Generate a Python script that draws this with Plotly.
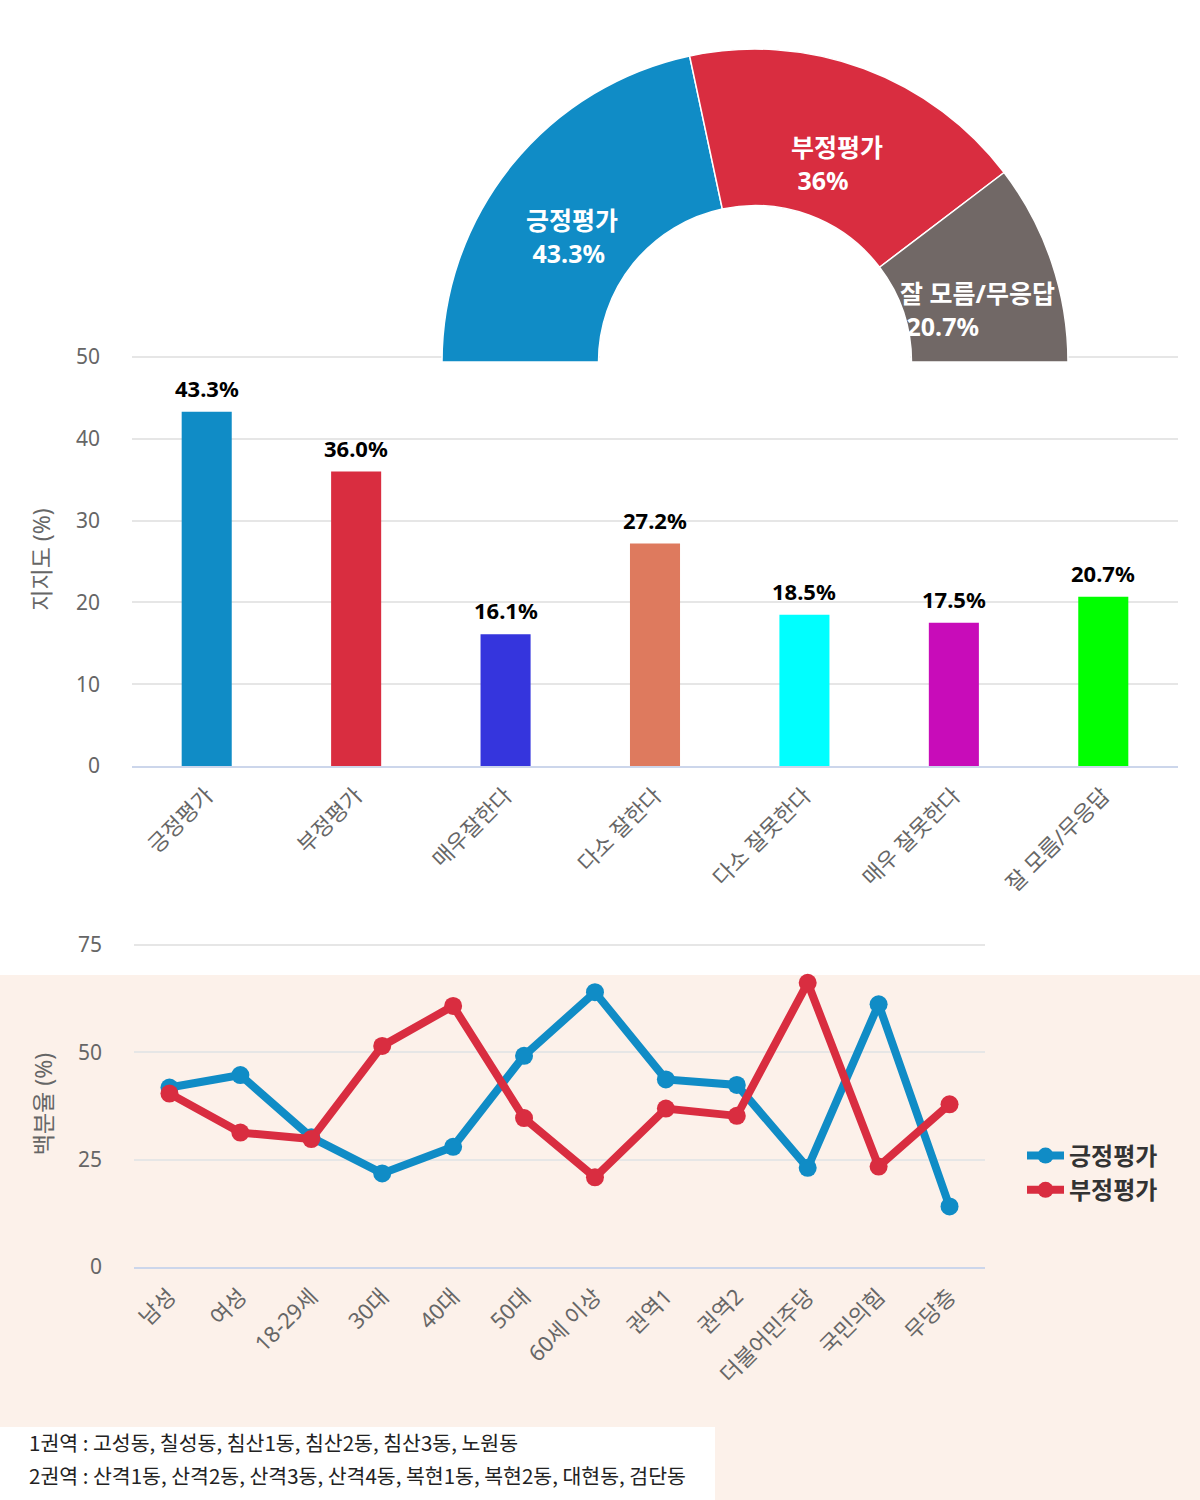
import math
import plotly.graph_objects as go

W, H = 1200, 1500

# 상단 반원 도넛
donut_labels = ["긍정평가", "부정평가", "잘 모름/무응답"]
donut_values = [43.3, 36, 20.7]
donut_colors = ["#108cc6", "#d92d40", "#716866"]

# 막대 그래프
bar_labels = ["긍정평가", "부정평가", "매우잘한다", "다소 잘한다",
              "다소 잘못한다", "매우 잘못한다", "잘 모름/무응답"]
bar_values = [43.3, 36.0, 16.1, 27.2, 18.5, 17.5, 20.7]
bar_colors = ["#108cc6", "#d92d40", "#3535dd", "#de7a5e",
              "#00ffff", "#c80cb9", "#00ff00"]
bar_ticks = [0, 10, 20, 30, 40, 50]

# 꺾은선 그래프 (계층별)
groups = ["남성", "여성", "18-29세", "30대", "40대", "50대", "60세 이상",
          "권역1", "권역2", "더불어민주당", "국민의힘", "무당층"]
positive = [41.8, 44.7, 30.2, 21.8, 28.0, 49.2, 64.0, 43.7, 42.4, 23.1, 61.2, 14.1]
negative = [40.4, 31.3, 29.8, 51.5, 60.8, 34.7, 20.9, 36.9, 35.2, 66.2, 23.4, 37.9]
line_ticks = [0, 25, 50, 75]

notes = [
    "1권역 : 고성동, 칠성동, 침산1동, 침산2동, 침산3동, 노원동",
    "2권역 : 산격1동, 산격2동, 산격3동, 산격4동, 복현1동, 복현2동, 대현동, 검단동",
]

FONT = "Noto Sans, Noto Sans CJK KR"
GREY = "#666666"

# 도넛 위치 (픽셀)
CX, CY, R, HOLE = 755, 362, 313, 0.5


def px(x):
    return x / W


def py(y):
    return 1 - y / H


def pie_domain(r):
    return dict(x=[px(CX - r), px(CX + r)], y=[py(CY + r), py(CY - r)])


def y_layout(bottom, top, ticks, pad=4):
    # 맨 위 눈금선이 잘리지 않도록 영역을 조금 늘림
    top_val = ticks[-1] * (bottom - top + pad) / (bottom - top)
    return dict(domain=[py(bottom), py(top - pad)], range=[0, top_val], tickvals=ticks)


fig = go.Figure()

# 반원: 보이지 않는 아래쪽 절반을 더해서 만든다
fig.add_trace(
    go.Pie(
        labels=donut_labels + ["_"],
        values=donut_values + [sum(donut_values)],
        marker=dict(
            colors=donut_colors + ["rgba(0,0,0,0)"],
            line=dict(color=["white"] * 3 + ["rgba(0,0,0,0)"], width=[1.5, 1.5, 1.5, 0]),
        ),
        hole=HOLE,
        sort=False,
        direction="clockwise",
        rotation=-90,
        textinfo="none",
        hoverinfo="skip",
        showlegend=False,
        domain=pie_domain(R),
    )
)
# 도넛 구멍 윗부분은 흰색으로 (뒤의 눈금선 가림)
fig.add_trace(
    go.Pie(
        labels=["hole", "_"],
        values=[1, 1],
        marker=dict(colors=["white", "rgba(0,0,0,0)"], line=dict(width=0)),
        sort=False,
        direction="clockwise",
        rotation=-90,
        textinfo="none",
        hoverinfo="skip",
        showlegend=False,
        domain=pie_domain(R * HOLE - 1),
    )
)

fig.add_trace(
    go.Bar(
        x=bar_labels,
        y=bar_values,
        marker=dict(color=bar_colors, line=dict(width=0)),
        width=0.335,
        showlegend=False,
        hoverinfo="skip",
        xaxis="x",
        yaxis="y",
    )
)

for name, vals, color in [("긍정평가", positive, "#108cc6"), ("부정평가", negative, "#d92d40")]:
    fig.add_trace(
        go.Scatter(
            x=groups,
            y=vals,
            name=name,
            mode="lines+markers",
            line=dict(color=color, width=8),
            marker=dict(color=color, size=18),
            xaxis="x2",
            yaxis="y2",
        )
    )

# 막대 값 라벨
for lab, v in zip(bar_labels, bar_values):
    fig.add_annotation(
        x=lab, y=v, xref="x", yref="y",
        text=f"{v:.1f}%", showarrow=False,
        xanchor="center", yanchor="middle", yshift=24,
        font=dict(family=FONT, size=22, color="#000000", weight="bold"),
    )

# 도넛 라벨
total = sum(donut_values)
r_mid = R * (1 + HOLE) / 2
cum = 0
for lab, v in zip(donut_labels, donut_values):
    ang = math.radians(180 - (cum + v / 2) / total * 180)
    cum += v
    fig.add_annotation(
        x=px(CX + r_mid * math.cos(ang)),
        y=py(CY - r_mid * math.sin(ang)),
        xref="paper", yref="paper",
        xanchor="center", yanchor="middle",
        text=f"{lab}<br>\u00a0{v:g}%",
        align="left",
        showarrow=False,
        yshift=-22,
        font=dict(family=FONT, size=25, color="white", weight="bold"),
    )

# 배경
fig.add_shape(type="rect", xref="paper", yref="paper", x0=0, x1=1, y0=0, y1=py(975),
              fillcolor="#fcf1ea", line=dict(width=0), layer="below")
fig.add_shape(type="rect", xref="paper", yref="paper", x0=0, x1=px(715), y0=0, y1=py(1427),
              fillcolor="white", line=dict(width=0), layer="below")

for i, t in enumerate(notes):
    fig.add_annotation(
        x=px(27), y=py(1442 + 33 * i), xref="paper", yref="paper",
        xanchor="left", yanchor="middle", showarrow=False, text=t,
        font=dict(family="Noto Sans CJK KR", size=20.5, color="#222222"),
    )

grid = dict(gridcolor="#e6e6e6", gridwidth=2, zeroline=False, showline=False, automargin=False,
            tickfont=dict(family=FONT, size=21, color=GREY), ticklabelstandoff=31)
xax = dict(showgrid=False, showline=True, linecolor="#ccd6eb", linewidth=2, automargin=False,
           tickangle=-45, tickfont=dict(family=FONT, size=22, color=GREY), ticks="",
           ticklabelstandoff=6)

fig.update_layout(
    width=W,
    height=H,
    margin=dict(l=0, r=0, t=0, b=0, autoexpand=False),
    paper_bgcolor="white",
    plot_bgcolor="rgba(0,0,0,0)",
    font=dict(family=FONT, color=GREY),
    xaxis=dict(domain=[px(132), px(1178)], anchor="y", **xax),
    yaxis=dict(anchor="x", **y_layout(766, 357, bar_ticks),
               title=dict(text="지지도 (%)", font=dict(size=23, color=GREY), standoff=18), **grid),
    xaxis2=dict(domain=[px(134), px(985)], anchor="y2", range=[-0.5, 11.5], **xax),
    yaxis2=dict(anchor="x2", **y_layout(1267, 945, line_ticks),
                title=dict(text="백분율 (%)", font=dict(size=23, color=GREY), standoff=18), **grid),
    legend=dict(x=px(1022), y=py(1173), xanchor="left", yanchor="middle",
                bgcolor="rgba(0,0,0,0)", itemwidth=37,
                font=dict(family=FONT, size=24, color="#333333", weight="bold")),
)

fig.write_html("out.html", config={"displayModeBar": False},
               post_script="document.body.style.margin='0';")
